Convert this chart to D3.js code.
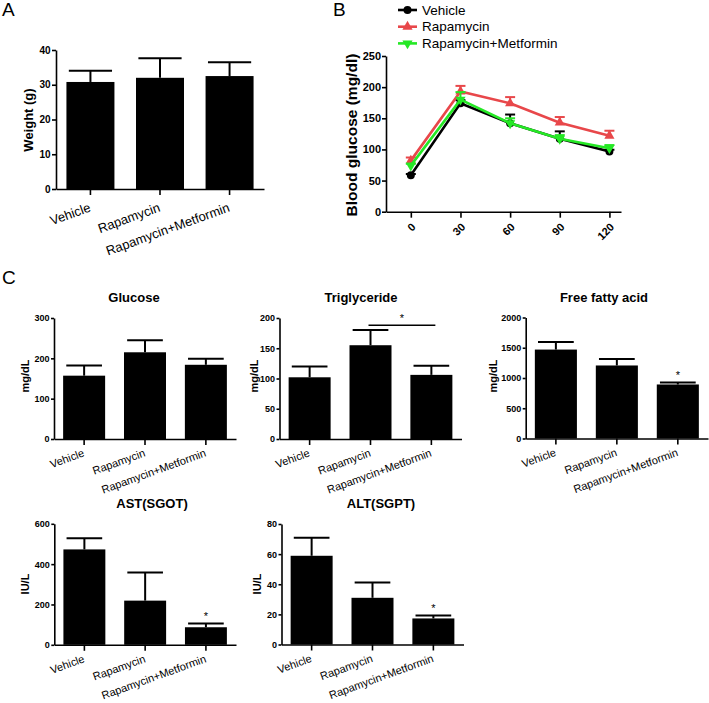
<!DOCTYPE html>
<html><head><meta charset="utf-8">
<script src="https://cdn.jsdelivr.net/npm/d3@7"></script>
<style>
html,body{margin:0;padding:0;background:#fff;}
svg{display:block;font-family:"Liberation Sans",Arial,sans-serif;}
</style></head>
<body><svg id="chart" width="709" height="703"></svg>
<script>
// ---------- DATA ----------
const groups = ["Vehicle", "Rapamycin", "Rapamycin+Metformin"];

const weightMean = [30.8, 32.0, 32.5];
const weightErr  = [3.2, 5.6, 4.0];
const weightTicks = [0, 10, 20, 30, 40];

const times = [0, 30, 60, 90, 120];
const seriesNames = ["Vehicle", "Rapamycin", "Rapamycin+Metformin"];
const vehicleGlu = [58.5, 174, 142, 117, 96.5];
const vehicleErr = [2, 5, 14, 12, 3];
const rapaGlu    = [82, 193, 174, 143, 122];
const rapaErr    = [5, 9, 10, 9, 8];
const rmGlu      = [74, 180, 142, 117, 102];
const rmErr      = [3, 12, 8, 6, 5];
const gluTicks   = [0, 50, 100, 150, 200, 250];

const glucoseMean = [157, 215, 184];
const glucoseErr  = [25, 30, 15];
const glucoseTicks = [0, 100, 200, 300];

const trigMean = [102, 155, 106];
const trigErr  = [18, 25, 15];
const trigTicks = [0, 50, 100, 150, 200];

const ffaMean = [1470, 1207, 893];
const ffaErr  = [125, 109, 33];
const ffaTicks = [0, 500, 1000, 1500, 2000];

const astMean = [473, 219, 87];
const astErr  = [55, 139, 19];
const astTicks = [0, 200, 400, 600];

const altMean = [58.9, 31, 17.3];
const altErr  = [11.9, 10.2, 2.0];
const altTicks = [0, 20, 40, 60, 80];

// ---------- DRAW ----------
const svg = d3.select("#chart");
const FONT = '"Liberation Sans",Arial,sans-serif';

function panelLetter(t, x, y) {
  svg.append("text").attr("x", x).attr("y", y).attr("font-size", 19)
    .attr("font-family", FONT).attr("fill", "#000").text(t);
}

function barPanel(o) {
  const g = svg.append("g");
  const y = d3.scaleLinear().domain([0, o.max]).range([o.y0, o.y1]);
  const x = d3.scaleBand().domain(groups).range([o.axisX, o.axisEnd])
    .paddingInner(0.31).paddingOuter(o.outer);
  const bw = x.bandwidth();
  g.selectAll("rect.bar").data(o.means).join("rect")
    .attr("x", (d, i) => x(groups[i])).attr("width", bw)
    .attr("y", d => y(d)).attr("height", d => y(0) - y(d)).attr("fill", "#000");
  const cw = bw * o.cap;
  o.means.forEach((m, i) => {
    const cx = x(groups[i]) + bw / 2;
    g.append("line").attr("x1", cx).attr("x2", cx).attr("y1", y(m)).attr("y2", y(m + o.errs[i]))
      .attr("stroke", "#000").attr("stroke-width", 2);
    g.append("line").attr("x1", cx - cw / 2).attr("x2", cx + cw / 2)
      .attr("y1", y(m + o.errs[i])).attr("y2", y(m + o.errs[i]))
      .attr("stroke", "#000").attr("stroke-width", 2);
    if (o.stars && o.stars[i]) {
      g.append("text").attr("x", cx).attr("y", y(m + o.errs[i]) - 3).attr("fill", "#000")
        .attr("text-anchor", "middle").attr("font-size", 11).attr("font-family", FONT).text("*");
    }
  });
  const ya = g.append("g").attr("transform", `translate(${o.axisX},0)`)
    .call(d3.axisLeft(y).tickValues(o.ticks).tickSize(o.tickLen).tickSizeOuter(0).tickFormat(d3.format("d")));
  ya.select(".domain").attr("stroke-width", 1.6);
  ya.selectAll(".tick line").attr("stroke-width", 1.6);
  ya.selectAll(".tick text").attr("font-size", o.tickFont).attr("font-weight", "bold")
    .attr("font-family", FONT).attr("x", -(o.tickLen + 1.5));
  const xa = g.append("g").attr("transform", `translate(0,${o.y0})`)
    .call(d3.axisBottom(x).tickSize(6).tickSizeOuter(0));
  xa.select(".domain").attr("stroke-width", 1.6);
  xa.selectAll(".tick line").attr("stroke-width", 1.6);
  xa.selectAll(".tick text").attr("font-size", o.labelFont).attr("font-family", FONT)
    .attr("text-anchor", "end").attr("x", 0).attr("y", 0).attr("dy", null)
    .attr("transform", `translate(${o.ldx},${o.ldy}) rotate(-20)`);
  g.append("text").attr("transform", `translate(${o.ylx},${o.yly}) rotate(-90)`)
    .attr("text-anchor", "middle").attr("dy", "0.35em").attr("font-size", o.ylFont).attr("fill", "#000")
    .attr("font-weight", "bold").attr("font-family", FONT).text(o.ylabel);
  if (o.title) {
    g.append("text").attr("x", o.tx).attr("y", o.ty).attr("text-anchor", "middle").attr("fill", "#000")
      .attr("font-size", 13).attr("font-weight", "bold").attr("font-family", FONT).text(o.title);
  }
  return { x, y, g };
}

// Panel A
panelLetter("A", 2, 16);
barPanel({ axisX: 56, axisEnd: 264, outer: 0.15, y0: 189, y1: 50, max: 40, ticks: weightTicks,
  means: weightMean, errs: weightErr, cap: 0.9, tickFont: 10, tickLen: 4, labelFont: 13, ldx: 1, ldy: 22,
  ylabel: "Weight (g)", ylx: 28, yly: 120, ylFont: 13 });

// Panel B
panelLetter("B", 333, 16);
(function () {
  const g = svg.append("g");
  const x = d3.scaleLinear().domain([-15, 127]).range([386, 621]);
  const y = d3.scaleLinear().domain([0, 250]).range([211.7, 56]);
  const colors = ["#000000", "#e8474a", "#25e825"];
  const data = [
    { v: vehicleGlu, e: vehicleErr, sym: d3.symbolCircle, rot: 0, size: 50 },
    { v: rapaGlu, e: rapaErr, sym: d3.symbolTriangle, rot: 0, size: 45 },
    { v: rmGlu, e: rmErr, sym: d3.symbolTriangle, rot: 180, size: 45 }
  ];
  const ya = g.append("g").attr("transform", "translate(386,0)")
    .call(d3.axisLeft(y).tickValues(gluTicks).tickSize(4).tickSizeOuter(0));
  ya.select(".domain").attr("stroke-width", 1.6);
  ya.selectAll(".tick line").attr("stroke-width", 1.6);
  ya.selectAll(".tick text").attr("font-size", 11).attr("font-weight", "bold").attr("font-family", FONT).attr("x", -5);
  const xa = g.append("g").attr("transform", "translate(0,211.7)")
    .call(d3.axisBottom(x).tickValues(times).tickSize(6).tickSizeOuter(0));
  xa.select(".domain").attr("stroke-width", 1.6);
  xa.selectAll(".tick line").attr("stroke-width", 1.6);
  xa.selectAll(".tick text").attr("font-size", 11).attr("font-weight", "bold").attr("font-family", FONT)
    .attr("text-anchor", "end").attr("x", 0).attr("y", 0).attr("dy", null)
    .attr("transform", "translate(5,16) rotate(-45)");
  const line = d3.line().x((d, i) => x(times[i])).y(d => y(d));
  data.forEach((s, k) => {
    const sg = g.append("g");
    s.v.forEach((v, i) => {
      const cx = x(times[i]);
      sg.append("line").attr("x1", cx).attr("x2", cx).attr("y1", y(v)).attr("y2", y(v + s.e[i]))
        .attr("stroke", colors[k]).attr("stroke-width", 2);
      sg.append("line").attr("x1", cx - 5).attr("x2", cx + 5).attr("y1", y(v + s.e[i])).attr("y2", y(v + s.e[i]))
        .attr("stroke", colors[k]).attr("stroke-width", 2);
    });
    sg.append("path").datum(s.v).attr("d", line).attr("fill", "none")
      .attr("stroke", colors[k]).attr("stroke-width", 2.6);
    sg.selectAll("path.m").data(s.v).join("path").attr("class", "m")
      .attr("d", d3.symbol().type(s.sym).size(s.size))
      .attr("transform", (d, i) => `translate(${x(times[i])},${y(d)}) rotate(${s.rot})`)
      .attr("fill", colors[k]);
  });
  seriesNames.forEach((n, k) => {
    const ly = 10 + k * 16.7;
    g.append("line").attr("x1", 398).attr("x2", 417).attr("y1", ly).attr("y2", ly)
      .attr("stroke", colors[k]).attr("stroke-width", 2.6);
    g.append("path").attr("d", d3.symbol().type(data[k].sym).size(data[k].size)())
      .attr("transform", `translate(407.5,${ly}) rotate(${data[k].rot})`).attr("fill", colors[k]);
    g.append("text").attr("x", 422).attr("y", ly).attr("dy", "0.35em").attr("font-size", 13.5)
      .attr("font-family", FONT).attr("fill", "#000").text(n);
  });
  g.append("text").attr("transform", "translate(352,135) rotate(-90)").attr("text-anchor", "middle")
    .attr("dy", "0.35em").attr("font-size", 15.5).attr("font-weight", "bold").attr("font-family", FONT)
    .attr("fill", "#000").text("Blood glucose (mg/dl)");
})();

// Panel C
panelLetter("C", 2, 284);
const cCommon = { outer: 0.15, cap: 0.85, tickFont: 9, tickLen: 3, labelFont: 11, ldx: 1, ldy: 17, ylFont: 11 };
barPanel(Object.assign({}, cCommon, { axisX: 54, axisEnd: 236, y0: 439, y1: 318, max: 300, ticks: glucoseTicks,
  means: glucoseMean, errs: glucoseErr, ylabel: "mg/dL", ylx: 25, yly: 376, title: "Glucose", tx: 134, ty: 302 }));
const trig = barPanel(Object.assign({}, cCommon, { axisX: 279.5, axisEnd: 461.5, y0: 439, y1: 318, max: 200, ticks: trigTicks,
  means: trigMean, errs: trigErr, ylabel: "mg/dL", ylx: 254, yly: 376, title: "Triglyceride", tx: 361, ty: 302 }));
(function () {
  const xs = trig.x, bw = xs.bandwidth();
  const x1 = xs(groups[1]) + bw / 2 - 2, x2 = xs(groups[2]) + bw / 2 + 4;
  const yy = trig.y(188);
  trig.g.append("line").attr("x1", x1).attr("x2", x2).attr("y1", yy).attr("y2", yy)
    .attr("stroke", "#000").attr("stroke-width", 1.5);
  trig.g.append("text").attr("x", (x1 + x2) / 2).attr("y", yy - 3).attr("text-anchor", "middle")
    .attr("font-size", 11).attr("font-family", FONT).attr("fill", "#000").text("*");
})();
barPanel(Object.assign({}, cCommon, { axisX: 525.7, axisEnd: 708, y0: 438.5, y1: 317.5, max: 2000, ticks: ffaTicks,
  means: ffaMean, errs: ffaErr, stars: [0, 0, 1], ylabel: "mg/dL", ylx: 493, yly: 376, title: "Free fatty acid", tx: 604, ty: 302 }));
barPanel(Object.assign({}, cCommon, { axisX: 54.3, axisEnd: 236, y0: 644.8, y1: 523.8, max: 600, ticks: astTicks,
  means: astMean, errs: astErr, stars: [0, 0, 1], ylabel: "IU/L", ylx: 25, yly: 584, title: "AST(SGOT)", tx: 152, ty: 508 }));
barPanel(Object.assign({}, cCommon, { axisX: 281.5, axisEnd: 463.5, y0: 644.5, y1: 524, max: 80, ticks: altTicks,
  means: altMean, errs: altErr, stars: [0, 0, 1], ylabel: "IU/L", ylx: 257, yly: 584, title: "ALT(SGPT)", tx: 381, ty: 508 }));
</script>
</body></html>
